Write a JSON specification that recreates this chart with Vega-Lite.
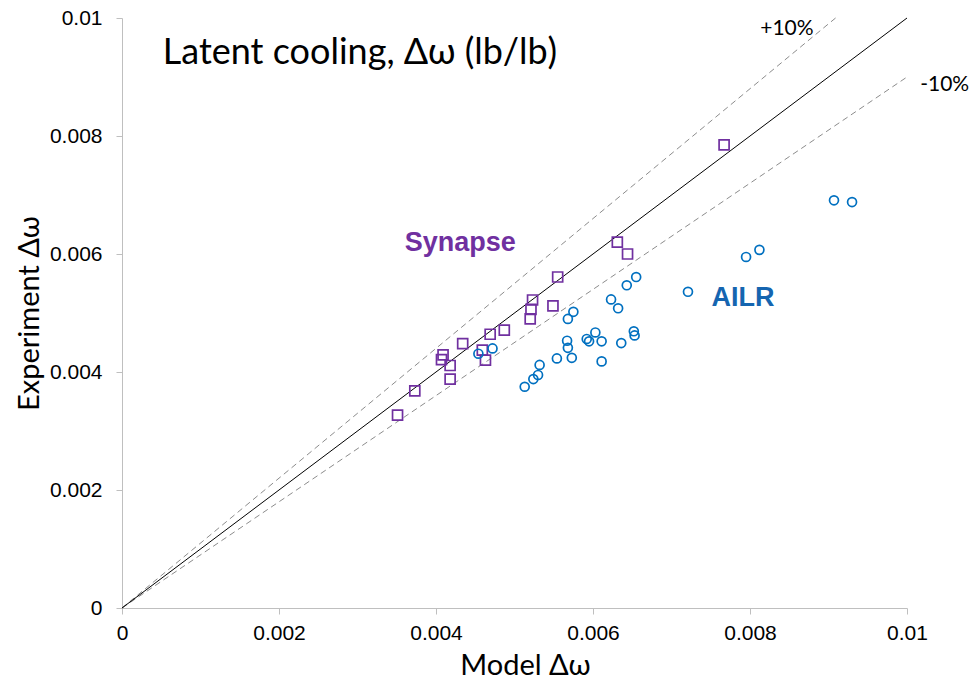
{
  "$schema": "https://vega.github.io/schema/vega-lite/v6.json",
  "autosize": {"type": "none"},
  "padding": {"left": 122, "top": 18, "right": 67, "bottom": 73},
  "width": 785,
  "height": 590,
  "background": "white",
  "config": {"view": {"stroke": null}},
  "datasets": {
    "points": [
      {"group": "Synapse", "model": 0.00631, "experiment": 0.00620},
      {"group": "Synapse", "model": 0.00644, "experiment": 0.00600},
      {"group": "Synapse", "model": 0.00555, "experiment": 0.00561},
      {"group": "Synapse", "model": 0.00523, "experiment": 0.00522},
      {"group": "Synapse", "model": 0.00549, "experiment": 0.00512},
      {"group": "Synapse", "model": 0.00521, "experiment": 0.00506},
      {"group": "Synapse", "model": 0.00520, "experiment": 0.00490},
      {"group": "Synapse", "model": 0.00487, "experiment": 0.00471},
      {"group": "Synapse", "model": 0.00469, "experiment": 0.00464},
      {"group": "Synapse", "model": 0.00434, "experiment": 0.00448},
      {"group": "Synapse", "model": 0.00459, "experiment": 0.00437},
      {"group": "Synapse", "model": 0.00409, "experiment": 0.00429},
      {"group": "Synapse", "model": 0.00407, "experiment": 0.00421},
      {"group": "Synapse", "model": 0.00418, "experiment": 0.00411},
      {"group": "Synapse", "model": 0.00463, "experiment": 0.00420},
      {"group": "Synapse", "model": 0.00418, "experiment": 0.00388},
      {"group": "Synapse", "model": 0.00373, "experiment": 0.00368},
      {"group": "Synapse", "model": 0.00351, "experiment": 0.00327},
      {"group": "Synapse", "model": 0.00767, "experiment": 0.00785},
      {"group": "AILR", "model": 0.00454, "experiment": 0.00431},
      {"group": "AILR", "model": 0.00472, "experiment": 0.00440},
      {"group": "AILR", "model": 0.00513, "experiment": 0.00375},
      {"group": "AILR", "model": 0.00524, "experiment": 0.00388},
      {"group": "AILR", "model": 0.00530, "experiment": 0.00395},
      {"group": "AILR", "model": 0.00532, "experiment": 0.00412},
      {"group": "AILR", "model": 0.00554, "experiment": 0.00423},
      {"group": "AILR", "model": 0.00573, "experiment": 0.00424},
      {"group": "AILR", "model": 0.00567, "experiment": 0.00453},
      {"group": "AILR", "model": 0.00568, "experiment": 0.00441},
      {"group": "AILR", "model": 0.00568, "experiment": 0.00490},
      {"group": "AILR", "model": 0.00575, "experiment": 0.00502},
      {"group": "AILR", "model": 0.00592, "experiment": 0.00456},
      {"group": "AILR", "model": 0.00595, "experiment": 0.00452},
      {"group": "AILR", "model": 0.00603, "experiment": 0.00467},
      {"group": "AILR", "model": 0.00611, "experiment": 0.00418},
      {"group": "AILR", "model": 0.00611, "experiment": 0.00452},
      {"group": "AILR", "model": 0.00623, "experiment": 0.00523},
      {"group": "AILR", "model": 0.00632, "experiment": 0.00508},
      {"group": "AILR", "model": 0.00636, "experiment": 0.00449},
      {"group": "AILR", "model": 0.00643, "experiment": 0.00547},
      {"group": "AILR", "model": 0.00655, "experiment": 0.00561},
      {"group": "AILR", "model": 0.00652, "experiment": 0.00469},
      {"group": "AILR", "model": 0.00653, "experiment": 0.00462},
      {"group": "AILR", "model": 0.00721, "experiment": 0.00536},
      {"group": "AILR", "model": 0.00795, "experiment": 0.00595},
      {"group": "AILR", "model": 0.00812, "experiment": 0.00607},
      {"group": "AILR", "model": 0.00907, "experiment": 0.00691},
      {"group": "AILR", "model": 0.00930, "experiment": 0.00688}
    ],
    "refline": [
      {"line": "1:1", "model": 0, "experiment": 0},
      {"line": "1:1", "model": 0.01, "experiment": 0.01}
    ],
    "bands": [
      {"line": "+10%", "model": 0, "experiment": 0},
      {"line": "+10%", "model": 0.00909, "experiment": 0.01},
      {"line": "-10%", "model": 0, "experiment": 0},
      {"line": "-10%", "model": 0.01, "experiment": 0.009}
    ]
  },
  "layer": [
    {
      "data": {"name": "bands"},
      "mark": {"type": "line", "color": "#8c8c8c", "strokeWidth": 1, "strokeDash": [6, 4]},
      "encoding": {
        "x": {
          "field": "model", "type": "quantitative",
          "scale": {"domain": [0, 0.01], "nice": false},
          "axis": {
            "title": "Model Δω", "values": [0, 0.002, 0.004, 0.006, 0.008, 0.01], "format": "~g",
            "grid": false, "domainColor": "#bfbfbf", "tickColor": "#bfbfbf", "tickSize": 6, "labelFlush": false,
            "labelFont": "Liberation Sans", "labelFontSize": 21, "labelColor": "#000000", "labelPadding": 8,
            "titleFont": "Lato", "titleFontSize": 29, "titleFontWeight": "normal", "titleColor": "#000000",
            "titleX": 403, "titleY": 66, "titleAlign": "center", "titleBaseline": "alphabetic"
          }
        },
        "y": {
          "field": "experiment", "type": "quantitative",
          "scale": {"domain": [0, 0.01], "nice": false},
          "axis": {
            "title": "Experiment Δω", "values": [0, 0.002, 0.004, 0.006, 0.008, 0.01], "format": "~g",
            "grid": false, "domainColor": "#bfbfbf", "tickColor": "#bfbfbf", "tickSize": 6, "labelFlush": false,
            "labelFont": "Liberation Sans", "labelFontSize": 21, "labelColor": "#000000", "labelPadding": 14,
            "titleFont": "Lato", "titleFontSize": 29, "titleFontWeight": "normal", "titleColor": "#000000",
            "titleX": -84, "titleY": 295, "titleAlign": "center", "titleBaseline": "alphabetic", "titleAngle": -90
          }
        },
        "detail": {"field": "line"}
      }
    },
    {
      "data": {"name": "refline"},
      "mark": {"type": "line", "color": "#000000", "strokeWidth": 1},
      "encoding": {
        "x": {"field": "model", "type": "quantitative"},
        "y": {"field": "experiment", "type": "quantitative"}
      }
    },
    {
      "data": {"name": "points"},
      "mark": {"type": "point", "filled": false, "strokeWidth": 1.7, "opacity": 1},
      "encoding": {
        "x": {"field": "model", "type": "quantitative"},
        "y": {"field": "experiment", "type": "quantitative"},
        "shape": {"field": "group", "type": "nominal", "scale": {"domain": ["AILR", "Synapse"], "range": ["circle", "square"]}, "legend": null},
        "color": {"field": "group", "type": "nominal", "scale": {"domain": ["AILR", "Synapse"], "range": ["#0070C0", "#7030A0"]}, "legend": null},
        "size": {"field": "group", "type": "nominal", "scale": {"domain": ["AILR", "Synapse"], "range": [80, 100]}, "legend": null}
      }
    },
    {
      "data": {"values": [{"text": "Latent cooling, Δω (lb/lb)", "model": 0.00052, "experiment": 0.00922}]},
      "mark": {"type": "text", "align": "left", "baseline": "alphabetic", "font": "Lato", "fontSize": 36, "color": "#000000"},
      "encoding": {
        "x": {"field": "model", "type": "quantitative"},
        "y": {"field": "experiment", "type": "quantitative"},
        "text": {"field": "text"}
      }
    },
    {
      "data": {"values": [{"text": "+10%", "model": 0.00847, "experiment": 0.00982}, {"text": "-10%", "model": 0.01048, "experiment": 0.00887}]},
      "mark": {"type": "text", "align": "center", "baseline": "middle", "font": "Lato", "fontSize": 21, "color": "#000000"},
      "encoding": {
        "x": {"field": "model", "type": "quantitative"},
        "y": {"field": "experiment", "type": "quantitative"},
        "text": {"field": "text"}
      }
    },
    {
      "data": {"values": [{"text": "Synapse", "model": 0.00431, "experiment": 0.00619}]},
      "mark": {"type": "text", "align": "center", "baseline": "middle", "font": "Liberation Sans", "fontWeight": "bold", "fontSize": 27, "color": "#7030A0"},
      "encoding": {
        "x": {"field": "model", "type": "quantitative"},
        "y": {"field": "experiment", "type": "quantitative"},
        "text": {"field": "text"}
      }
    },
    {
      "data": {"values": [{"text": "AILR", "model": 0.00791, "experiment": 0.00525}]},
      "mark": {"type": "text", "align": "center", "baseline": "middle", "font": "Liberation Sans", "fontWeight": "bold", "fontSize": 27, "color": "#1565B0"},
      "encoding": {
        "x": {"field": "model", "type": "quantitative"},
        "y": {"field": "experiment", "type": "quantitative"},
        "text": {"field": "text"}
      }
    }
  ]
}
